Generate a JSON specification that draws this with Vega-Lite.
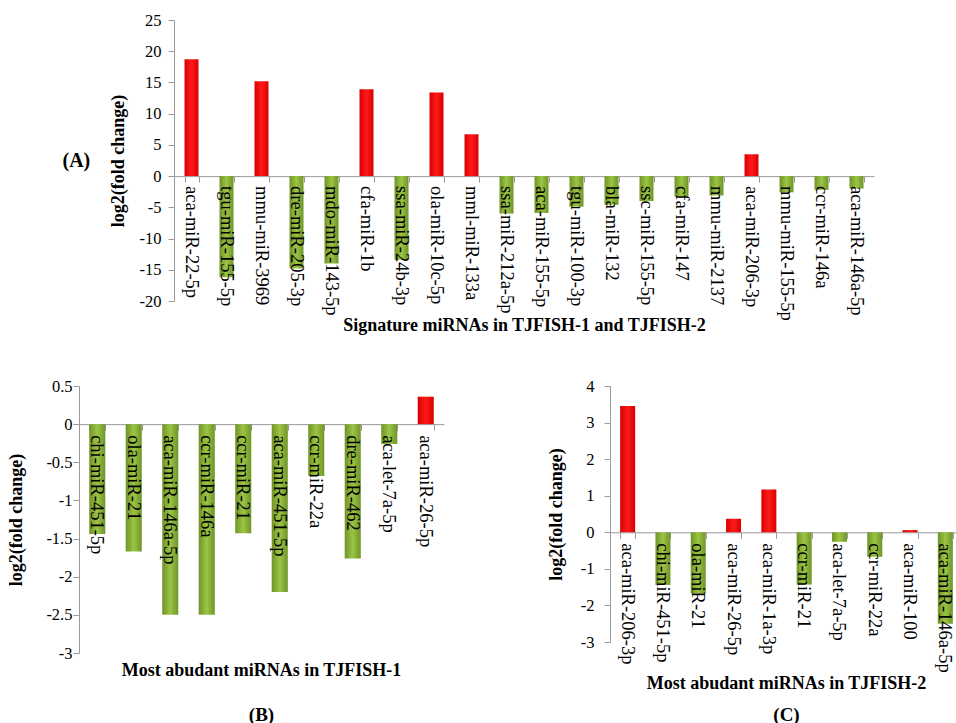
{
  "$schema": "https://vega.github.io/schema/vega-lite/v6.json",
  "background": "white",
  "padding": {"left": 5, "top": 12, "right": 0, "bottom": 0},
  "config": {
    "font": "Liberation Serif",
    "view": {"stroke": null},
    "axis": {"grid": false, "domainColor": "#9a9a9a", "tickColor": "#9a9a9a", "labelColor": "black", "labelFontSize": 16.5, "labelFont": "Liberation Serif", "titleFont": "Liberation Serif", "titleFontSize": 18, "titleFontWeight": "bold", "titleColor": "black", "tickSize": 6, "labelPadding": 3, "labelOverlap": false, "labelFlush": false, "labelBound": false},
    "title": {"font": "Liberation Serif", "fontSize": 18, "fontWeight": "bold", "color": "black", "subtitleFont": "Liberation Serif", "subtitleFontSize": 19, "subtitleFontWeight": "bold", "subtitleColor": "black"},
    "text": {"font": "Liberation Serif"}
  },
  "datasets": {
    "A": [
      {"name": "aca-miR-22-5p", "value": 18.7},
      {"name": "tgu-miR-155-5p", "value": -16.2},
      {"name": "mmu-miR-3969", "value": 15.2},
      {"name": "dre-miR-205-3p", "value": -14.8},
      {"name": "mdo-miR-143-5p", "value": -14.0},
      {"name": "cfa-miR-1b", "value": 13.9},
      {"name": "ssa-miR-24b-3p", "value": -13.4},
      {"name": "ola-miR-10c-5p", "value": 13.4},
      {"name": "mml-miR-133a", "value": 6.7},
      {"name": "ssa-miR-212a-5p", "value": -6.0},
      {"name": "aca-miR-155-5p", "value": -5.9},
      {"name": "tgu-miR-100-3p", "value": -4.9},
      {"name": "bla-miR-132", "value": -4.6},
      {"name": "ssc-miR-155-5p", "value": -4.0},
      {"name": "cfa-miR-147", "value": -3.3},
      {"name": "mmu-miR-2137", "value": -3.1},
      {"name": "aca-miR-206-3p", "value": 3.5},
      {"name": "mmu-miR-155-5p", "value": -2.6},
      {"name": "ccr-miR-146a", "value": -2.2},
      {"name": "aca-miR-146a-5p", "value": -2.0}
    ],
    "B": [
      {"name": "chi-miR-451-5p", "value": -1.44},
      {"name": "ola-miR-21", "value": -1.67},
      {"name": "aca-miR-146a-5p", "value": -2.5},
      {"name": "ccr-miR-146a", "value": -2.5},
      {"name": "ccr-miR-21", "value": -1.43},
      {"name": "aca-miR-451-5p", "value": -2.2},
      {"name": "ccr-miR-22a", "value": -0.68},
      {"name": "dre-miR-462", "value": -1.76},
      {"name": "aca-let-7a-5p", "value": -0.26},
      {"name": "aca-miR-26-5p", "value": 0.36}
    ],
    "C": [
      {"name": "aca-miR-206-3p", "value": 3.45},
      {"name": "chi-miR-451-5p", "value": -1.44},
      {"name": "ola-miR-21", "value": -1.67},
      {"name": "aca-miR-26-5p", "value": 0.37},
      {"name": "aca-miR-1a-3p", "value": 1.17},
      {"name": "ccr-miR-21", "value": -1.43},
      {"name": "aca-let-7a-5p", "value": -0.26},
      {"name": "ccr-miR-22a", "value": -0.67},
      {"name": "aca-miR-100", "value": 0.06},
      {"name": "aca-miR-146a-5p", "value": -2.5}
    ]
  },
  "vconcat": [
    {
      "spacing": 56,
      "hconcat": [
        {
          "width": 1, "height": 1,
          "data": {"values": [{"t": ""}]},
          "mark": {"type": "text"},
          "encoding": {"text": {"field": "t"}}
        },
        {
          "width": 700,
          "height": 281,
          "data": {"name": "A"},
          "title": {"text": "(A)", "orient": "left", "angle": 0, "anchor": "middle", "align": "right", "baseline": "middle", "offset": -9, "fontSize": 20},
          "resolve": {"axis": {"x": "independent"}},
          "layer": [
            {
              "mark": {"type": "bar"},
              "encoding": {
                "x": {"field": "name", "type": "nominal", "sort": null, "scale": {"paddingInner": 0.6, "paddingOuter": 0.3}, "axis": {"orient": "bottom", "labels": false, "title": null, "offset": -124.89, "tickBand": "extent", "tickSize": 6}},
                "y": {"field": "value", "type": "quantitative", "scale": {"domain": [-20, 25]}, "axis": {"values": [-20, -15, -10, -5, 0, 5, 10, 15, 20, 25], "title": "log2(fold change)", "labelExpr": "datum.value + ''", "labelPadding": 7, "titlePadding": 12}},
                "color": {"condition": {"test": "datum.value > 0", "value": {"gradient": "linear", "x1": 0, "x2": 1, "y1": 0, "y2": 0, "stops": [{"offset": 0, "color": "#d80000"}, {"offset": 0.5, "color": "#ff1a1a"}, {"offset": 1, "color": "#d80000"}]}}, "value": {"gradient": "linear", "x1": 0, "x2": 1, "y1": 0, "y2": 0, "stops": [{"offset": 0, "color": "#6f9428"}, {"offset": 0.5, "color": "#9cc444"}, {"offset": 1, "color": "#6f9428"}]}}
              }
            },
            {
              "mark": {"type": "text", "angle": 90, "align": "left", "baseline": "middle", "dx": 10, "fontSize": 18.5, "color": "black"},
              "encoding": {
                "x": {"field": "name", "type": "nominal", "sort": null, "axis": {"orient": "bottom", "domain": false, "ticks": false, "labels": false, "title": "Signature miRNAs in TJFISH-1 and TJFISH-2", "titlePadding": 15}},
                "y": {"datum": 0, "type": "quantitative", "scale": {"domain": [-20, 25]}, "axis": {"values": [-20, -15, -10, -5, 0, 5, 10, 15, 20, 25], "title": "log2(fold change)", "labelExpr": "datum.value + ''", "labelPadding": 7, "titlePadding": 12}},
                "text": {"field": "name"}
              }
            }
          ]
        }
      ]
    },
    {
      "spacing": 1,
      "hconcat": [
        {
          "width": 1, "height": 1,
          "data": {"values": [{"t": ""}]},
          "mark": {"type": "text"},
          "encoding": {"text": {"field": "t"}}
        },
        {
          "spacing": 103,
          "hconcat": [
            {
              "width": 365,
              "height": 267,
              "data": {"name": "B"},
              "title": {"text": "Most abudant miRNAs in TJFISH-1", "subtitle": "(B)", "orient": "bottom", "anchor": "middle", "offset": 0, "subtitlePadding": 26},
              "encoding": {
                "x": {"field": "name", "type": "nominal", "sort": null, "scale": {"paddingInner": 0.56, "paddingOuter": 0.28}, "axis": {"labels": false, "title": null, "offset": -228.86, "tickBand": "extent", "tickSize": 6}}
              },
              "layer": [
                {
                  "mark": {"type": "bar"},
                  "encoding": {
                    "y": {"field": "value", "type": "quantitative", "scale": {"domain": [-3, 0.5]}, "axis": {"values": [-3, -2.5, -2, -1.5, -1, -0.5, 0, 0.5], "title": "log2(fold change)", "labelExpr": "datum.value + ''", "labelPadding": 1, "titlePadding": 20}},
                    "color": {"condition": {"test": "datum.value > 0", "value": {"gradient": "linear", "x1": 0, "x2": 1, "y1": 0, "y2": 0, "stops": [{"offset": 0, "color": "#d80000"}, {"offset": 0.5, "color": "#ff1a1a"}, {"offset": 1, "color": "#d80000"}]}}, "value": {"gradient": "linear", "x1": 0, "x2": 1, "y1": 0, "y2": 0, "stops": [{"offset": 0, "color": "#6f9428"}, {"offset": 0.5, "color": "#9cc444"}, {"offset": 1, "color": "#6f9428"}]}}
                  }
                },
                {
                  "mark": {"type": "text", "angle": 90, "align": "left", "baseline": "middle", "dx": 11, "fontSize": 18.5, "color": "black"},
                  "encoding": {"y": {"datum": 0, "type": "quantitative", "scale": {"domain": [-3, 0.5]}, "axis": {"values": [-3, -2.5, -2, -1.5, -1, -0.5, 0, 0.5], "title": "log2(fold change)", "labelExpr": "datum.value + ''", "labelPadding": 1, "titlePadding": 20}}, "text": {"field": "name"}}
                }
              ]
            },
            {
              "width": 353,
              "height": 256,
              "data": {"name": "C"},
              "title": {"text": "Most abudant miRNAs in TJFISH-2", "subtitle": "(C)", "orient": "bottom", "anchor": "middle", "offset": 2, "subtitlePadding": 13},
              "encoding": {
                "x": {"field": "name", "type": "nominal", "sort": null, "scale": {"paddingInner": 0.575, "paddingOuter": 0.2875}, "axis": {"labels": false, "title": null, "offset": -109.71, "tickBand": "extent", "tickSize": 6}}
              },
              "layer": [
                {
                  "mark": {"type": "bar"},
                  "encoding": {
                    "y": {"field": "value", "type": "quantitative", "scale": {"domain": [-3, 4]}, "axis": {"values": [-3, -2, -1, 0, 1, 2, 3, 4], "title": "log2(fold change)", "labelExpr": "datum.value + ''", "labelPadding": 10, "titlePadding": 15}},
                    "color": {"condition": {"test": "datum.value > 0", "value": {"gradient": "linear", "x1": 0, "x2": 1, "y1": 0, "y2": 0, "stops": [{"offset": 0, "color": "#d80000"}, {"offset": 0.5, "color": "#ff1a1a"}, {"offset": 1, "color": "#d80000"}]}}, "value": {"gradient": "linear", "x1": 0, "x2": 1, "y1": 0, "y2": 0, "stops": [{"offset": 0, "color": "#6f9428"}, {"offset": 0.5, "color": "#9cc444"}, {"offset": 1, "color": "#6f9428"}]}}
                  }
                },
                {
                  "mark": {"type": "text", "angle": 90, "align": "left", "baseline": "middle", "dx": 11, "fontSize": 18.5, "color": "black"},
                  "encoding": {"y": {"datum": 0, "type": "quantitative", "scale": {"domain": [-3, 4]}, "axis": {"values": [-3, -2, -1, 0, 1, 2, 3, 4], "title": "log2(fold change)", "labelExpr": "datum.value + ''", "labelPadding": 10, "titlePadding": 15}}, "text": {"field": "name"}}
                }
              ]
            }
          ]
        }
      ]
    }
  ],
  "spacing": 44
}
